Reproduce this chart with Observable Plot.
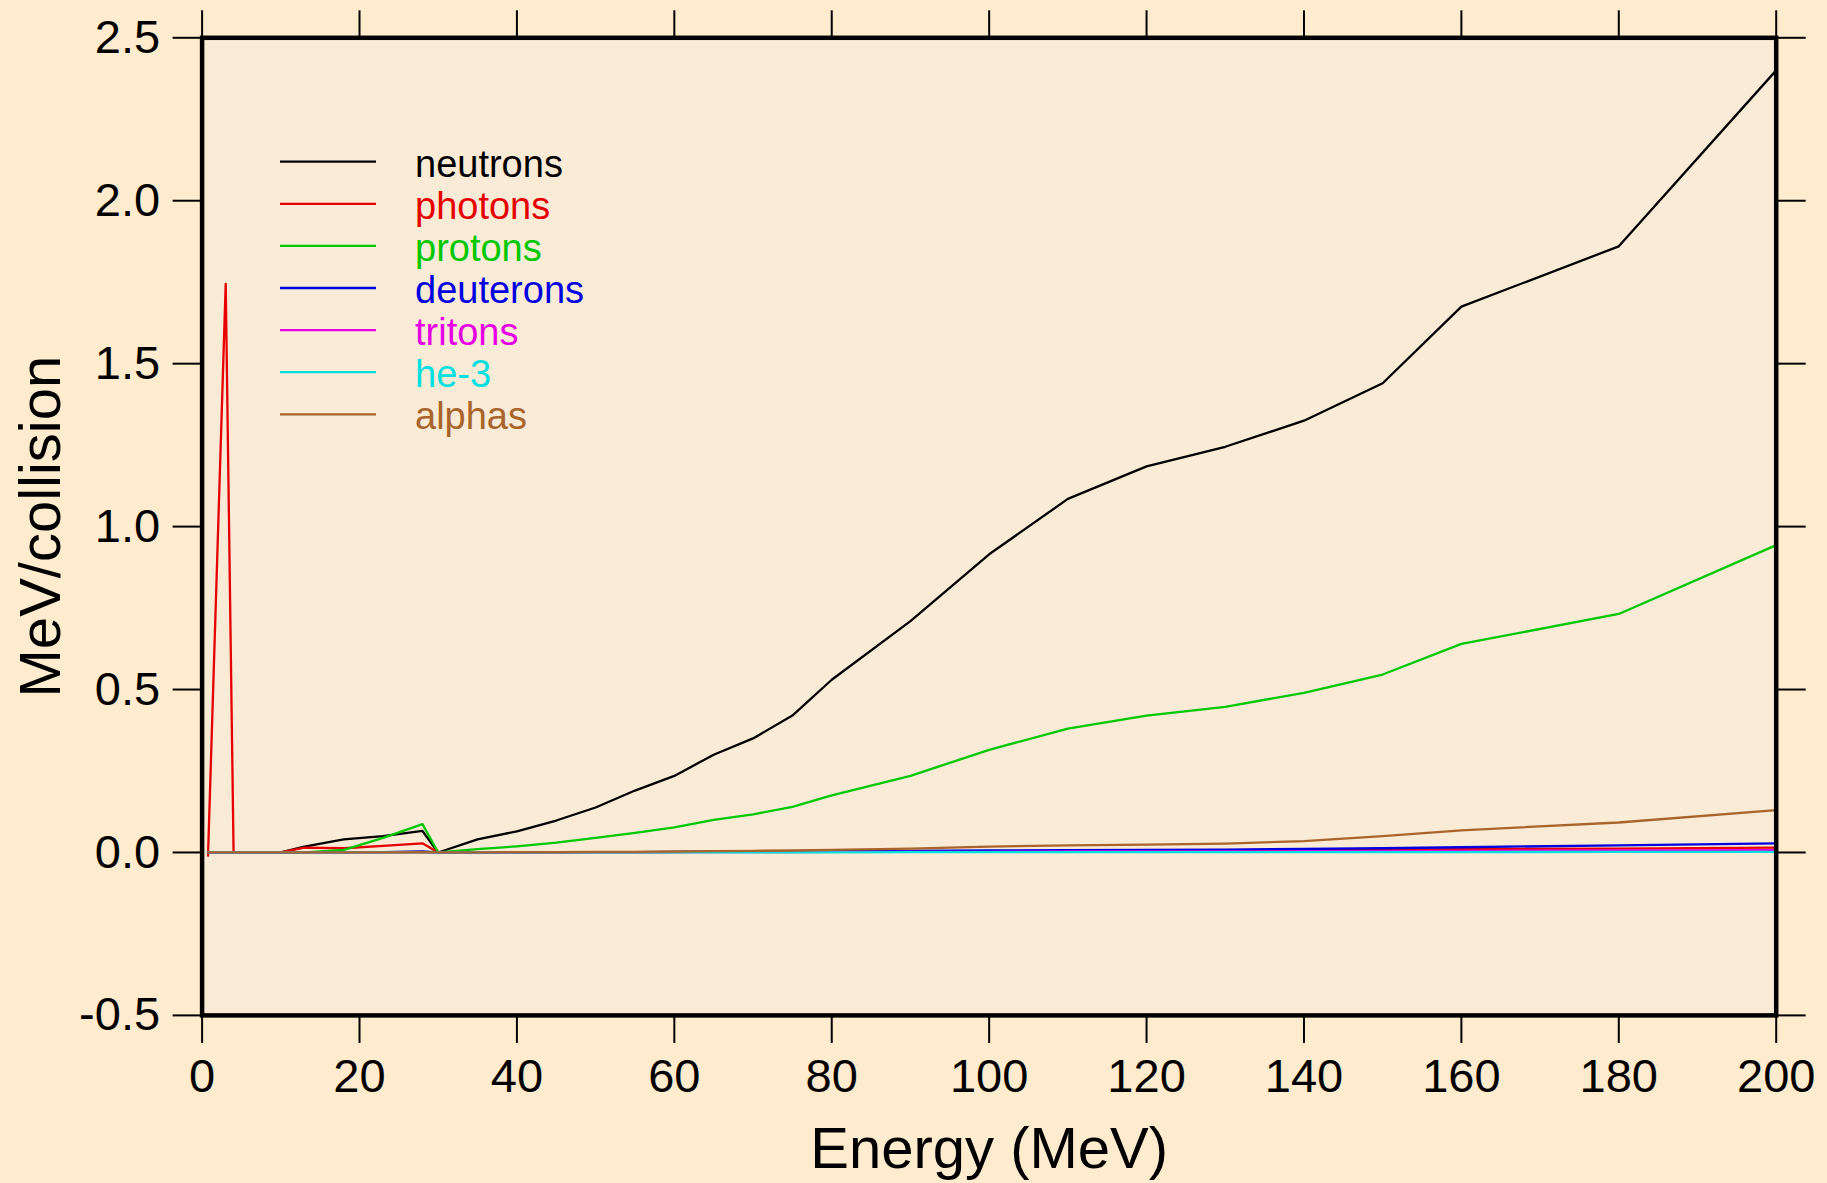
<!DOCTYPE html>
<html>
<head>
<meta charset="utf-8">
<script src="https://cdn.jsdelivr.net/npm/d3@7"></script>
<script src="https://cdn.jsdelivr.net/npm/@observablehq/plot@0.6"></script>
<style>
  html, body { margin: 0; padding: 0; background: #FFEBCD; }
  #chart { position: relative; width: 1827px; height: 1183px; }
  svg { display: block; }
</style>
</head>
<body>
<div id="chart"></div>
<script>
// ---- data ----
const energy = [0.75, 3, 4, 10, 13, 18, 23, 28, 30, 35, 40, 45, 50, 55, 60, 65, 70, 75, 80, 90, 100, 110, 120, 130, 140, 150, 160, 180, 200];
const neutrons  = [0, 0, 0, 0, 0.018, 0.04, 0.05, 0.066, 0, 0.04, 0.065, 0.098, 0.138, 0.19, 0.235, 0.3, 0.35, 0.42, 0.53, 0.71, 0.915, 1.085, 1.185, 1.245, 1.325, 1.44, 1.675, 1.86, 2.4];
const photons   = [-0.01, 1.745, 0, 0, 0.015, 0.013, 0.02, 0.028, 0, 0, 0, 0, 0.001, 0.001, 0.001, 0.002, 0.002, 0.002, 0.003, 0.003, 0.004, 0.005, 0.006, 0.006, 0.007, 0.008, 0.01, 0.012, 0.015];
const protons   = [0, 0, 0, 0, 0, 0.008, 0.045, 0.087, 0, 0.01, 0.019, 0.03, 0.045, 0.06, 0.077, 0.1, 0.117, 0.14, 0.175, 0.235, 0.315, 0.38, 0.42, 0.447, 0.49, 0.546, 0.64, 0.732, 0.943];
const deuterons = [0, 0, 0, 0, 0, 0, 0.001, 0.003, 0, 0, 0, 0.001, 0.001, 0.001, 0.002, 0.002, 0.003, 0.003, 0.004, 0.005, 0.006, 0.007, 0.008, 0.009, 0.011, 0.013, 0.016, 0.022, 0.028];
const tritons   = [0, 0, 0, 0, 0, 0, 0, 0.001, 0, 0, 0, 0, 0.001, 0.001, 0.001, 0.001, 0.001, 0.001, 0.002, 0.002, 0.002, 0.003, 0.003, 0.003, 0.004, 0.004, 0.005, 0.006, 0.007];
const he3       = [0, 0, 0, 0, 0, 0, 0, 0, 0, 0, 0, 0, 0, 0, 0, 0, 0, 0, 0, 0.001, 0.001, 0.001, 0.001, 0.001, 0.001, 0.001, 0.001, 0.002, 0.002];
const alphas    = [0, 0, 0, 0, 0, 0, 0, 0.001, 0, 0, 0.001, 0.001, 0.002, 0.002, 0.003, 0.004, 0.005, 0.006, 0.008, 0.012, 0.018, 0.022, 0.024, 0.027, 0.035, 0.05, 0.068, 0.092, 0.13];

const seriesNames  = ["neutrons", "photons", "protons", "deuterons", "tritons", "he-3", "alphas"];
const seriesValues = [neutrons, photons, protons, deuterons, tritons, he3, alphas];
const seriesColors = ["#000000", "#e60000", "#00c800", "#0000e0", "#e600e6", "#00e0e0", "#a8642a"];

const xTicks = [0, 20, 40, 60, 80, 100, 120, 140, 160, 180, 200];
const yTicks = [-0.5, 0, 0.5, 1.0, 1.5, 2.0, 2.5];
const xLabel = "Energy (MeV)";
const yLabel = "MeV/collision";

// ---- chart ----
const W = 1827, H = 1183;
const font = "'Liberation Sans', Arial, sans-serif";

const lineMarks = seriesNames.map((name, k) =>
  Plot.line(energy.map((e, i) => ({e, v: seriesValues[k][i]})), {
    x: "e", y: "v", stroke: seriesColors[k], strokeWidth: 2.3
  })
);

const chart = Plot.plot({
  width: W,
  height: H,
  marginLeft: 201.6,
  marginRight: 51.3,
  marginTop: 37.3,
  marginBottom: 168.1,
  style: {background: "transparent", fontFamily: font, color: "black", overflow: "visible"},
  x: {domain: [0, 200]},
  y: {domain: [-0.5, 2.5]},
  marks: [
    Plot.frame({fill: "#FAEBD7", stroke: null}),
    ...lineMarks,
    Plot.axisX(xTicks, {anchor: "bottom", tickSize: 28, tickPadding: 15, strokeWidth: 2, fontSize: 47, label: null, tickFormat: d => String(d)}),
    Plot.axisX(xTicks, {anchor: "top", tickSize: 28, strokeWidth: 2, label: null, tickFormat: () => ""}),
    Plot.axisY(yTicks, {anchor: "left", tickSize: 29, tickPadding: 13, strokeWidth: 2, fontSize: 47, label: null, tickFormat: d => d.toFixed(1)}),
    Plot.axisY(yTicks, {anchor: "right", tickSize: 29, strokeWidth: 2, label: null, tickFormat: () => ""}),
    Plot.frame({stroke: "black", strokeWidth: 4.5}),
    Plot.text([xLabel], {frameAnchor: "bottom", dy: 153, lineAnchor: "bottom", textAnchor: "middle", fontSize: 58, fill: "black"}),
    Plot.text([yLabel], {frameAnchor: "left", rotate: -90, dx: -183, lineAnchor: "top", textAnchor: "middle", fontSize: 58, fill: "black"})
  ]
});

document.getElementById("chart").appendChild(chart);

// ---- legend ----
const svg = d3.select(chart);
const lg = svg.append("g").attr("font-family", font).attr("font-size", 38).attr("text-anchor", "start");
seriesNames.forEach((name, k) => {
  const y = 161.7 + k * 42.1;
  lg.append("line").attr("x1", 280).attr("x2", 376).attr("y1", y).attr("y2", y)
    .attr("stroke", seriesColors[k]).attr("stroke-width", 2.3);
  lg.append("text").attr("x", 415).attr("y", y + 15).attr("fill", seriesColors[k]).text(name);
});
</script>
</body>
</html>
